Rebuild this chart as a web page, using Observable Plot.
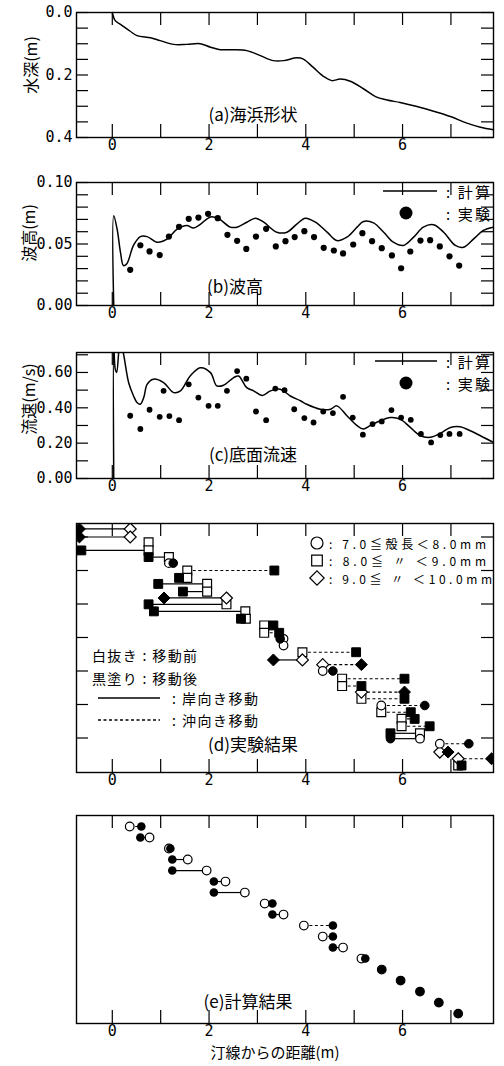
<!DOCTYPE html>
<html><head><meta charset="utf-8">
<script src="https://cdn.jsdelivr.net/npm/d3@7"></script>
<script src="https://cdn.jsdelivr.net/npm/@observablehq/plot@0.6"></script>
<style>
body{margin:0;background:#fff;}
#wrap{position:relative;width:504px;height:1066px;overflow:hidden;background:#fff;}
#wrap svg{position:absolute;left:0;overflow:visible;}
</style></head><body><div id="wrap"></div>
<script>
// ---------- DATA ----------
const xTickMarks = [0, 1, 2, 3, 4, 5, 6, 7];
const xTickLabels = [0, 2, 4, 6];

// (a) beach profile
const profileX = [0, 0.06, 0.17, 0.37, 0.51, 0.79, 0.99, 1.27, 1.54, 1.82, 2.03, 2.23, 2.50, 2.78, 3.06, 3.33, 3.54, 3.82, 3.95, 4.15, 4.37, 4.54, 4.71, 4.92, 5.19, 5.44, 5.68, 5.95, 6.30, 6.64, 6.99, 7.33, 7.61, 7.88];
const profileDepth = [0, 0.026, 0.038, 0.060, 0.074, 0.081, 0.090, 0.102, 0.102, 0.100, 0.111, 0.119, 0.119, 0.122, 0.138, 0.154, 0.154, 0.145, 0.149, 0.175, 0.205, 0.218, 0.213, 0.220, 0.244, 0.269, 0.280, 0.288, 0.301, 0.316, 0.333, 0.354, 0.367, 0.375];
const depthTicks = [0, 0.05, 0.1, 0.15, 0.2, 0.25, 0.3, 0.35, 0.4];
const depthLabels = [0, 0.2, 0.4];

// (b) wave height
const waveCalcX = [0.03, 0.03, 0.10, 0.17, 0.23, 0.30, 0.44, 0.58, 0.72, 0.92, 1.13, 1.34, 1.54, 1.68, 1.82, 2.03, 2.20, 2.44, 2.58, 2.78, 2.96, 3.13, 3.40, 3.61, 3.82, 3.99, 4.20, 4.44, 4.64, 4.85, 5.06, 5.19, 5.40, 5.61, 5.81, 6.02, 6.23, 6.43, 6.64, 6.85, 7.09, 7.26, 7.47, 7.67, 7.88];
const waveCalcH = [0, 0.073, 0.062, 0.043, 0.0325, 0.034, 0.049, 0.056, 0.056, 0.0515, 0.054, 0.062, 0.065, 0.063, 0.066, 0.072, 0.0705, 0.0637, 0.0637, 0.0677, 0.071, 0.0677, 0.0596, 0.0596, 0.0664, 0.071, 0.0677, 0.0596, 0.0528, 0.0556, 0.0637, 0.0683, 0.0672, 0.0596, 0.0515, 0.0488, 0.0556, 0.0637, 0.0656, 0.0596, 0.0488, 0.0474, 0.0542, 0.061, 0.0637];
const waveObsX = [0.37, 0.58, 0.77, 0.98, 1.17, 1.38, 1.58, 1.78, 1.98, 2.18, 2.38, 2.58, 2.77, 2.97, 3.18, 3.38, 3.58, 3.77, 3.97, 4.17, 4.37, 4.58, 4.77, 4.98, 5.17, 5.37, 5.57, 5.78, 5.97, 6.16, 6.37, 6.57, 6.77, 6.97, 7.17];
const waveObsH = [0.029, 0.049, 0.044, 0.041, 0.056, 0.064, 0.0705, 0.0715, 0.0745, 0.071, 0.0575, 0.0526, 0.046, 0.056, 0.0623, 0.048, 0.0523, 0.0556, 0.0604, 0.0556, 0.0469, 0.0447, 0.0423, 0.0496, 0.0588, 0.0523, 0.0466, 0.0407, 0.0303, 0.0439, 0.0528, 0.0531, 0.048, 0.040, 0.0325];
const waveTicks = [0, 0.01, 0.02, 0.03, 0.04, 0.05, 0.06, 0.07, 0.08, 0.09, 0.1];
const waveLabels = [0, 0.05, 0.1];

// (c) bottom velocity
const velCalcX = [0.03, 0.03, 0.06, 0.09, 0.14, 0.17, 0.22, 0.34, 0.44, 0.51, 0.58, 0.65, 0.72, 0.85, 1.06, 1.27, 1.41, 1.61, 1.82, 2.03, 2.16, 2.30, 2.51, 2.61, 2.78, 2.92, 3.10, 3.27, 3.47, 3.68, 3.89, 4.02, 4.30, 4.51, 4.64, 4.85, 5.06, 5.19, 5.33, 5.54, 5.75, 5.95, 6.16, 6.37, 6.57, 6.78, 6.99, 7.19, 7.40, 7.61, 7.88];
const velCalcU = [0, 0.76, 0.62, 0.60, 0.73, 0.76, 0.72, 0.54, 0.467, 0.43, 0.42, 0.458, 0.533, 0.562, 0.543, 0.486, 0.496, 0.58, 0.627, 0.599, 0.524, 0.528, 0.571, 0.58, 0.514, 0.496, 0.470, 0.496, 0.505, 0.467, 0.44, 0.42, 0.392, 0.392, 0.411, 0.355, 0.299, 0.28, 0.299, 0.327, 0.345, 0.336, 0.289, 0.242, 0.233, 0.255, 0.289, 0.293, 0.27, 0.242, 0.204];
const velObsX = [0.37, 0.58, 0.77, 0.98, 1.06, 1.18, 1.38, 1.58, 1.78, 1.99, 2.18, 2.37, 2.58, 2.77, 2.97, 3.18, 3.37, 3.56, 3.76, 3.97, 4.16, 4.36, 4.56, 4.77, 4.97, 5.18, 5.38, 5.57, 5.77, 5.97, 6.17, 6.38, 6.59, 6.78, 6.97, 7.18];
const velObsU = [0.355, 0.28, 0.389, 0.349, 0.496, 0.353, 0.33, 0.533, 0.458, 0.411, 0.411, 0.496, 0.608, 0.565, 0.379, 0.33, 0.509, 0.50, 0.392, 0.342, 0.317, 0.379, 0.37, 0.462, 0.345, 0.248, 0.308, 0.323, 0.387, 0.345, 0.332, 0.252, 0.204, 0.246, 0.252, 0.252];
const velTicks = [0, 0.1, 0.2, 0.3, 0.4, 0.5, 0.6, 0.7];
const velLabels = [0, 0.2, 0.4, 0.6];

// (d) experiment: shell class (c=7-8mm, s=8-9mm, d=9-10mm), row, position before, position after
const expShape  = ["d","d","s","s","s","c","s","s","s","s","d","s","s","s","s","s","c","c","s","d","d","c","s","s","d","s","c","s","s","s","s","c","c","d","d","s"];
const expRow    = [-0.24, 0.0, 0.16, 0.40, 0.60, 0.78, 1.00, 1.22, 1.40, 1.63, 1.82, 2.01, 2.22, 2.44, 2.64, 2.86, 3.04, 3.24, 3.44, 3.67, 3.81, 4.00, 4.23, 4.45, 4.63, 4.83, 5.03, 5.23, 5.43, 5.65, 5.86, 6.02, 6.17, 6.42, 6.62, 6.82];
const expBefore = [0.37, 0.37, 0.75, 0.75, 1.17, 1.17, 1.55, 1.55, 1.96, 1.96, 2.36, 2.36, 2.75, 2.76, 3.14, 3.14, 3.54, 3.54, 3.93, 3.93, 4.35, 4.35, 4.75, 4.75, 5.15, 5.15, 5.56, 5.56, 5.98, 5.98, 6.36, 6.36, 6.77, 6.77, 7.15, 7.15];
const expAfter  = [-0.68, -0.68, null, -0.64, 0.75, 1.26, 3.35, 1.38, 0.95, 1.46, 1.07, 0.75, 0.86, 2.66, 3.33, 3.45, 3.47, null, 5.04, 3.33, 5.15, 4.56, 6.04, 5.15, 6.04, 6.04, 6.46, 6.17, 6.25, 6.56, 5.75, 5.75, 7.37, 6.94, 7.84, 7.22];
const expTicks = [0, 1, 2, 3, 4, 5, 6];

// (e) computation: row, position before, position after
const calcRow    = [1, 2, 3, 4, 5, 6, 7, 8, 9, 10, 11, 12, 13, 14, 15, 16, 17, 18];
const calcBefore = [0.36, 0.77, 1.17, 1.56, 1.95, 2.34, 2.74, 3.15, 3.54, 3.96, 4.35, 4.77, 5.15, 5.57, 5.96, 6.36, 6.75, 7.15];
const calcAfter  = [0.60, 0.58, 1.20, 1.24, 1.24, 2.10, 2.10, 3.31, 3.31, 4.56, 4.56, 4.56, 5.23, 5.57, 5.96, 6.36, 6.75, 7.15];

// texts
const panelTitles = ["(a)海浜形状", "(b)波高", "(c)底面流速", "(d)実験結果", "(e)計算結果"];
const yTitles = ["水深(m)", "波高(m)", "流速(m/s)"];
const lineLegend = [": 計算", ": 実験"];
const classSymbols = ["c", "s", "d"];
const classLegend = [": 7.0≦殻長＜8.0mm", ": 8.0≦ 〃 ＜9.0mm", ": 9.0≦ 〃 ＜10.0mm"];
const moveLegend = ["白抜き : 移動前", "黒塗り : 移動後", ": 岸向き移動", ": 沖向き移動"];
const xTitle = "汀線からの距離(m)";

// ---------- DRAWING ----------
const FONT_JP = "'Noto Sans CJK JP', 'Noto Sans', sans-serif";
const FONT_NUM = "'DejaVu Sans Mono', 'Liberation Mono', monospace";
const X_DOMAIN = [-0.74, 7.88];
const wrap = document.getElementById("wrap");

const zipXY = (xs, ys) => xs.map((x, i) => ({x, y: ys[i]}));

const symSquare = {draw(ctx, size) { const s = Math.sqrt(size) / 2; ctx.moveTo(-s, -s); ctx.lineTo(s, -s); ctx.lineTo(s, s); ctx.lineTo(-s, s); ctx.closePath(); }};
const symDiamond = {draw(ctx, size) { const s = Math.sqrt(size) / 2 * 1.35; ctx.moveTo(0, -s); ctx.lineTo(s, 0); ctx.lineTo(0, s); ctx.lineTo(-s, 0); ctx.closePath(); }};
const symbolOf = {c: "circle", s: symSquare, d: symDiamond};
const radiusOf = {c: 4.3, s: 5.0, d: 5.0};

function makePanel(cfg) {
  const plotW = 504 - 76 - 11;
  const plotH = cfg.height - cfg.mt - cfg.mb;
  const marks = [
    Plot.ruleX(xTickMarks, {x: d => d, insetTop: plotH - 13, strokeWidth: 1.2}),
    Plot.ruleX(xTickMarks, {x: d => d, insetBottom: plotH - 13, strokeWidth: 1.2})
  ];
  if (cfg.yTicks) marks.push(
    Plot.ruleY(cfg.yTicks, {y: d => d, insetRight: plotW - 12, strokeWidth: 1.2}),
    Plot.ruleY(cfg.yTicks, {y: d => d, insetLeft: plotW - 12, strokeWidth: 1.2})
  );
  marks.push(...cfg.marks);
  marks.push(Plot.frame({stroke: "#000", strokeWidth: 1.4}));
  marks.push(Plot.axisX({ticks: xTickLabels, tickSize: 0, tickPadding: 2, fontSize: 15, fontFamily: FONT_NUM, label: null, tickFormat: d3.format("d")}));
  if (cfg.yLabels) marks.push(Plot.axisY({ticks: cfg.yLabels, tickSize: 0, tickPadding: 4, fontSize: 15, fontFamily: FONT_NUM, label: null, tickFormat: d3.format(cfg.yFormat)}));
  const svg = Plot.plot({
    width: 504, height: cfg.height,
    marginLeft: 76, marginRight: 11, marginTop: cfg.mt, marginBottom: cfg.mb,
    x: {domain: X_DOMAIN},
    y: cfg.yLabels ? {domain: cfg.yDomain, reverse: !!cfg.reverse} : {domain: cfg.yDomain, reverse: !!cfg.reverse, axis: null},
    style: {background: "transparent", color: "#000", fontFamily: FONT_NUM, fontSize: "15px"},
    marks
  });
  svg.style.top = cfg.top + "px";
  wrap.appendChild(svg);
  return svg;
}

function addText(svg, top, x, y, str, o = {}) {
  const t = d3.select(svg).append("text")
    .attr("x", x).attr("y", y - top)
    .attr("text-anchor", o.anchor || "start")
    .attr("dominant-baseline", "central")
    .attr("font-family", o.family || FONT_JP)
    .attr("font-size", o.size || 15)
    .attr("fill", "#000")
    .text(str);
  if (o.rotate) t.attr("transform", `rotate(${o.rotate},${x},${y - top})`);
  if (o.len) t.attr("textLength", o.len).attr("lengthAdjust", "spacing");
  return t;
}
function addLine(svg, top, x1, x2, y, dash) {
  d3.select(svg).append("line").attr("x1", x1).attr("x2", x2).attr("y1", y - top).attr("y2", y - top)
    .attr("stroke", "#000").attr("stroke-width", 1.3).attr("stroke-dasharray", dash || null);
}
function addDot(svg, top, x, y, r) {
  d3.select(svg).append("circle").attr("cx", x).attr("cy", y - top).attr("r", r).attr("fill", "#000");
}
function addSymbol(svg, top, x, y, kind) {
  const sym = symbolOf[kind] === "circle" ? d3.symbolCircle : symbolOf[kind];
  const size = Math.PI * 6 * 6;
  d3.select(svg).append("path").attr("d", d3.symbol(sym, size)())
    .attr("transform", `translate(${x},${y - top})`)
    .attr("fill", "none").attr("stroke", "#000").attr("stroke-width", 1.2);
}

// (a)
const A = {top: 0, height: 170, mt: 12, mb: 33};
const svgA = makePanel({...A, yDomain: [0, 0.4], reverse: true, yTicks: depthTicks, yLabels: depthLabels, yFormat: ".1f",
  marks: [Plot.line(zipXY(profileX, profileDepth), {x: "x", y: "y", stroke: "#000", strokeWidth: 1.5, curve: "catmull-rom"})]});
addText(svgA, A.top, 253, 113, panelTitles[0], {anchor: "middle", size: 17});
addText(svgA, A.top, 30, 65, yTitles[0], {anchor: "middle", size: 16, rotate: -90});

// (b)
const B = {top: 170, height: 168, mt: 12, mb: 33};
const svgB = makePanel({...B, yDomain: [0, 0.1], yTicks: waveTicks, yLabels: waveLabels, yFormat: ".2f",
  marks: [
    Plot.line(zipXY(waveCalcX, waveCalcH), {x: "x", y: "y", stroke: "#000", strokeWidth: 1.5, curve: "catmull-rom", clip: true}),
    Plot.dot(zipXY(waveObsX, waveObsH), {x: "x", y: "y", r: 3.1, fill: "#000"})
  ]});
addText(svgB, B.top, 235, 285, panelTitles[1], {anchor: "middle", size: 17});
addText(svgB, B.top, 28, 233, yTitles[1], {anchor: "middle", size: 16, rotate: -90});
addLine(svgB, B.top, 383, 437, 191);
addText(svgB, B.top, 446, 191, lineLegend[0], {size: 15, len: 44});
addDot(svgB, B.top, 406, 213, 6.5);
addText(svgB, B.top, 446, 213, lineLegend[1], {size: 15, len: 44});

// (c)
const C = {top: 338, height: 173, mt: 14, mb: 33};
const svgC = makePanel({...C, yDomain: [0, 0.713], yTicks: velTicks, yLabels: velLabels, yFormat: ".2f",
  marks: [
    Plot.line(zipXY(velCalcX, velCalcU), {x: "x", y: "y", stroke: "#000", strokeWidth: 1.5, curve: "catmull-rom", clip: true}),
    Plot.dot(zipXY(velObsX, velObsU), {x: "x", y: "y", r: 2.9, fill: "#000"})
  ]});
addText(svgC, C.top, 253, 453, panelTitles[2], {anchor: "middle", size: 17});
addText(svgC, C.top, 28, 399, yTitles[2], {anchor: "middle", size: 16, rotate: -90});
addLine(svgC, C.top, 375, 437, 361);
addText(svgC, C.top, 446, 361, lineLegend[0], {size: 15, len: 44});
addDot(svgC, C.top, 406, 383, 6.5);
addText(svgC, C.top, 446, 383, lineLegend[1], {size: 15, len: 44});

// (d)
const exp = expShape.map((s, i) => ({shape: s, row: expRow[i], before: expBefore[i], after: expAfter[i]}));
const expMoved = exp.filter(d => d.after != null);
const D = {top: 511, height: 294, mt: 12, mb: 33};
const dMarks = [
  Plot.link(expMoved.filter(d => d.after < d.before), {x1: "before", x2: "after", y1: "row", y2: "row", stroke: "#000", strokeWidth: 1.2, clip: true}),
  Plot.link(expMoved.filter(d => d.after > d.before), {x1: "before", x2: "after", y1: "row", y2: "row", stroke: "#000", strokeWidth: 1.1, strokeDasharray: "3,2.5", clip: true})
];
for (const s of ["s", "d", "c"]) {
  dMarks.push(Plot.dot(exp.filter(d => d.shape === s), {x: "before", y: "row", symbol: symbolOf[s], r: radiusOf[s], fill: "#fff", stroke: "#000", strokeWidth: 1.2, clip: true}));
}
for (const s of ["s", "d", "c"]) {
  dMarks.push(Plot.dot(expMoved.filter(d => d.shape === s), {x: "after", y: "row", symbol: symbolOf[s], r: radiusOf[s], fill: "#000", stroke: "#000", strokeWidth: 1, clip: true}));
}
const svgD = makePanel({...D, yDomain: [-0.403, 7.03], reverse: true, yTicks: expTicks, marks: dMarks});
addText(svgD, D.top, 253, 743, panelTitles[3], {anchor: "middle", size: 17});
classLegend.forEach((txt, i) => {
  const y = 543 + i * 17.5;
  addSymbol(svgD, D.top, 317, y, classSymbols[i]);
  addText(svgD, D.top, 329, y, txt, {size: 12, len: i === 2 ? 163 : 157});
});
addText(svgD, D.top, 92, 655, moveLegend[0], {size: 14, len: 105});
addText(svgD, D.top, 92, 678, moveLegend[1], {size: 14, len: 105});
addLine(svgD, D.top, 98, 160, 698);
addText(svgD, D.top, 172, 698, moveLegend[2], {size: 14, len: 86});
addLine(svgD, D.top, 98, 160, 720, "3,2.5");
addText(svgD, D.top, 172, 720, moveLegend[3], {size: 14, len: 86});

// (e)
const calc = calcRow.map((r, i) => ({row: r, before: calcBefore[i], after: calcAfter[i]}));
const E = {top: 805, height: 261, mt: 10, mb: 43};
const svgE = makePanel({...E, yDomain: [0, 18.9], reverse: true, marks: [
  Plot.link(calc.filter(d => d.after < d.before), {x1: "before", x2: "after", y1: "row", y2: "row", stroke: "#000", strokeWidth: 1.2}),
  Plot.link(calc.filter(d => d.after > d.before), {x1: "before", x2: "after", y1: "row", y2: "row", stroke: "#000", strokeWidth: 1.1, strokeDasharray: "3,2.5"}),
  Plot.dot(calc, {x: "before", y: "row", r: 4.3, fill: "#fff", stroke: "#000", strokeWidth: 1.2}),
  Plot.dot(calc, {x: "after", y: "row", r: 4.3, fill: "#000"})
]});
addText(svgE, E.top, 248, 1000, panelTitles[4], {anchor: "middle", size: 17});
addText(svgE, E.top, 275, 1051, xTitle, {anchor: "middle", size: 15});
</script>
</body></html>
